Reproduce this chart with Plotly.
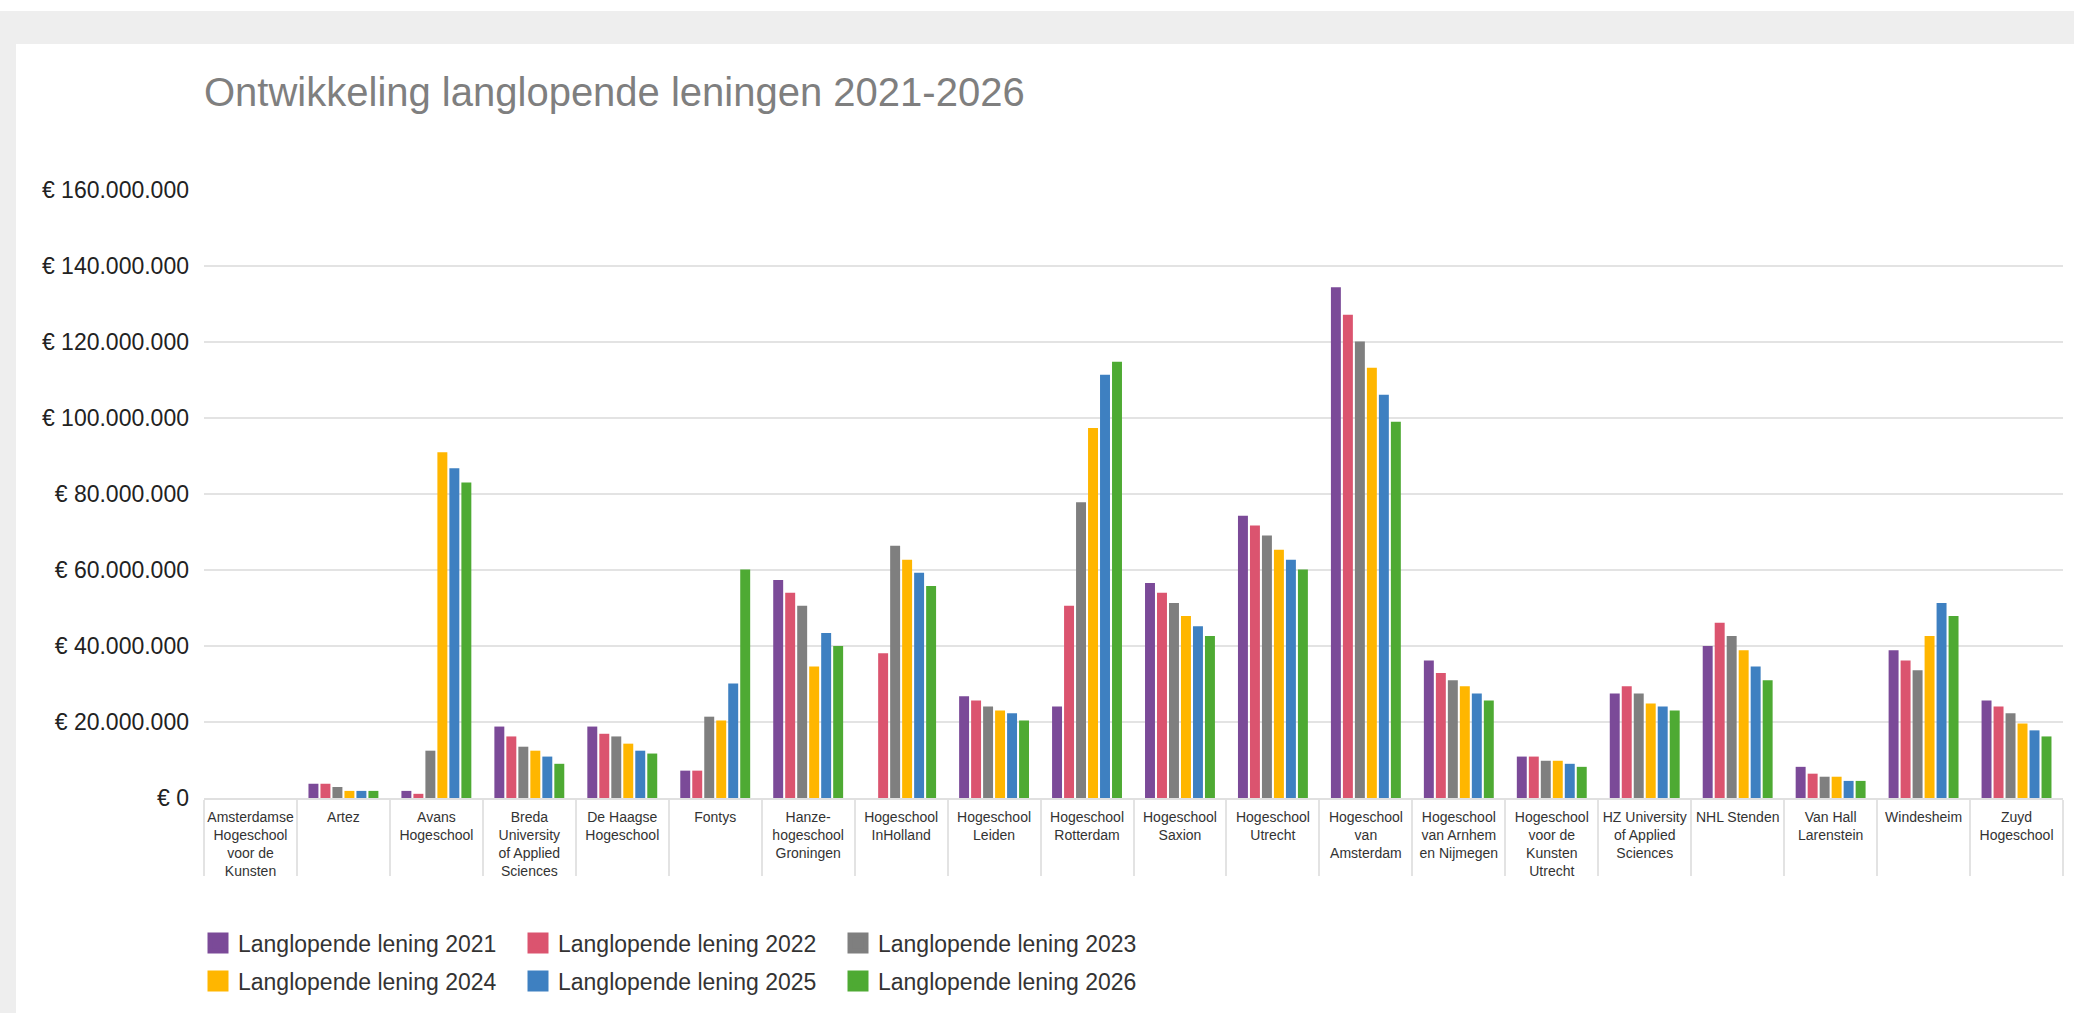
import plotly.graph_objects as go

categories = [
    "Amsterdamse<br>Hogeschool<br>voor de<br>Kunsten",
    "Artez",
    "Avans<br>Hogeschool",
    "Breda<br>University<br>of Applied<br>Sciences",
    "De Haagse<br>Hogeschool",
    "Fontys",
    "Hanze-<br>hogeschool<br>Groningen",
    "Hogeschool<br>InHolland",
    "Hogeschool<br>Leiden",
    "Hogeschool<br>Rotterdam",
    "Hogeschool<br>Saxion",
    "Hogeschool<br>Utrecht",
    "Hogeschool<br>van<br>Amsterdam",
    "Hogeschool<br>van Arnhem<br>en Nijmegen",
    "Hogeschool<br>voor de<br>Kunsten<br>Utrecht",
    "HZ University<br>of Applied<br>Sciences",
    "NHL Stenden",
    "Van Hall<br>Larenstein",
    "Windesheim",
    "Zuyd<br>Hogeschool",
]

# values in euro (millions)
lening_2021 = [None, 3.75, 1.87, 18.8, 18.8, 7.2, 57.4, None, 26.8, 24.1, 56.6, 74.3, 134.4, 36.2, 10.9, 27.5, 40.0, 8.2, 38.9, 25.65]
lening_2022 = [None, 3.75, 1.1, 16.2, 16.9, 7.2, 54.0, 38.1, 25.65, 50.6, 54.0, 71.7, 127.2, 32.9, 10.9, 29.4, 46.1, 6.4, 36.2, 24.1]
lening_2023 = [None, 2.9, 12.45, 13.5, 16.2, 21.4, 50.6, 66.4, 24.1, 77.8, 51.3, 69.1, 120.1, 31.0, 9.8, 27.5, 42.6, 5.6, 33.6, 22.3]
lening_2024 = [None, 1.87, 91.0, 12.45, 14.3, 20.4, 34.6, 62.7, 23.0, 97.4, 47.9, 65.3, 113.2, 29.4, 9.8, 24.9, 38.9, 5.6, 42.6, 19.6]
lening_2025 = [None, 1.87, 86.8, 10.9, 12.45, 30.15, 43.4, 59.3, 22.3, 111.4, 45.2, 62.7, 106.1, 27.5, 9.0, 24.1, 34.6, 4.5, 51.3, 17.8]
lening_2026 = [None, 1.87, 83.05, 9.0, 11.7, 60.1, 40.0, 55.8, 20.4, 114.8, 42.6, 60.1, 99.0, 25.65, 8.2, 23.0, 31.0, 4.5, 47.9, 16.2]

series_names = [
    "Langlopende lening 2021", "Langlopende lening 2022", "Langlopende lening 2023",
    "Langlopende lening 2024", "Langlopende lening 2025", "Langlopende lening 2026",
]
series_values = [lening_2021, lening_2022, lening_2023, lening_2024, lening_2025, lening_2026]
colors = ["#7B4A98", "#DB546F", "#7F7F7F", "#FFB600", "#3E80C1", "#4EAA33"]

y_tickvals = [0, 20e6, 40e6, 60e6, 80e6, 100e6, 120e6, 140e6, 160e6]
y_ticktext = ["€ 0", "€ 20.000.000", "€ 40.000.000", "€ 60.000.000", "€ 80.000.000",
              "€ 100.000.000", "€ 120.000.000", "€ 140.000.000", "€ 160.000.000"]

FONT = "Liberation Sans, Arial, Helvetica, sans-serif"

fig = go.Figure()
for name, vals, col in zip(series_names, series_values, colors):
    fig.add_trace(go.Bar(
        x=categories,
        y=[v * 1e6 if v is not None else None for v in vals],
        name=name,
        marker=dict(color=col, line=dict(width=0)),
        showlegend=False,
    ))

# legend proxies (larger square symbols than bar legend icons)
for i, (name, col) in enumerate(zip(series_names, colors)):
    fig.add_trace(go.Scatter(
        x=[None], y=[None], mode="markers", name=name,
        marker=dict(symbol="square", size=16, color=col, line=dict(color=col, width=5)),
        legend="legend" if i < 3 else "legend2",
        hoverinfo="skip",
    ))

W, H = 2074, 1013
L, R, T, B = 204, 11, 190, 215
pw = W - L - R
ph = H - T - B

def px_x(px):
    return (px - L) / pw

def px_y(py):
    return (H - B - py) / ph

shapes = [
    dict(type="rect", xref="paper", yref="paper", x0=px_x(0), x1=px_x(W), y0=px_y(44), y1=px_y(11),
         fillcolor="#EEEEEE", line=dict(width=0), layer="below"),
    dict(type="rect", xref="paper", yref="paper", x0=px_x(0), x1=px_x(16), y0=px_y(H), y1=px_y(44),
         fillcolor="#EEEEEE", line=dict(width=0), layer="below"),
]

legend_common = dict(
    orientation="h", xanchor="left", yanchor="middle",
    font=dict(family=FONT, size=23, color="#333333"),
    entrywidth=275, entrywidthmode="pixels",
    bgcolor="rgba(0,0,0,0)", borderwidth=0, tracegroupgap=0,
    itemclick=False, itemdoubleclick=False,
)

fig.update_layout(
    width=W, height=H, autosize=False,
    margin=dict(l=L, r=R, t=T, b=B, pad=0),
    paper_bgcolor="white", plot_bgcolor="white",
    barmode="group", bargap=0.226, bargroupgap=0.17,
    title=dict(text="Ontwikkeling langlopende leningen 2021-2026",
               font=dict(family=FONT, size=40, color="#7F7F7F"),
               x=L / W, xanchor="left", xref="container",
               y=1 - 91.5 / H, yanchor="middle", yref="container"),
    shapes=shapes,
    legend=dict(x=px_x(198), y=px_y(943), **legend_common),
    legend2=dict(x=px_x(198), y=px_y(981), **legend_common),
    xaxis=dict(
        type="category", showgrid=False, zeroline=False,
        showline=True, linecolor="#E0E0E0", linewidth=2,
        ticks="outside", tickson="boundaries", ticklen=76, tickwidth=2, tickcolor="#E3E3E3",
        ticklabelstandoff=5,
        tickfont=dict(family=FONT, size=14, color="#333333"),
        tickangle=0, fixedrange=True,
    ),
    yaxis=dict(
        range=[0, 160e6], tickvals=y_tickvals, ticktext=y_ticktext,
        showgrid=True, gridcolor="#E3E3E3", gridwidth=1.5,
        zeroline=False, showline=False, ticks="",
        ticklabelstandoff=14,
        tickfont=dict(family=FONT, size=23, color="#222222"),
        fixedrange=True,
    ),
    hovermode=False,
)

fig.write_html("out.html", config={"displayModeBar": False},
               post_script="document.body.style.margin='0px';")
